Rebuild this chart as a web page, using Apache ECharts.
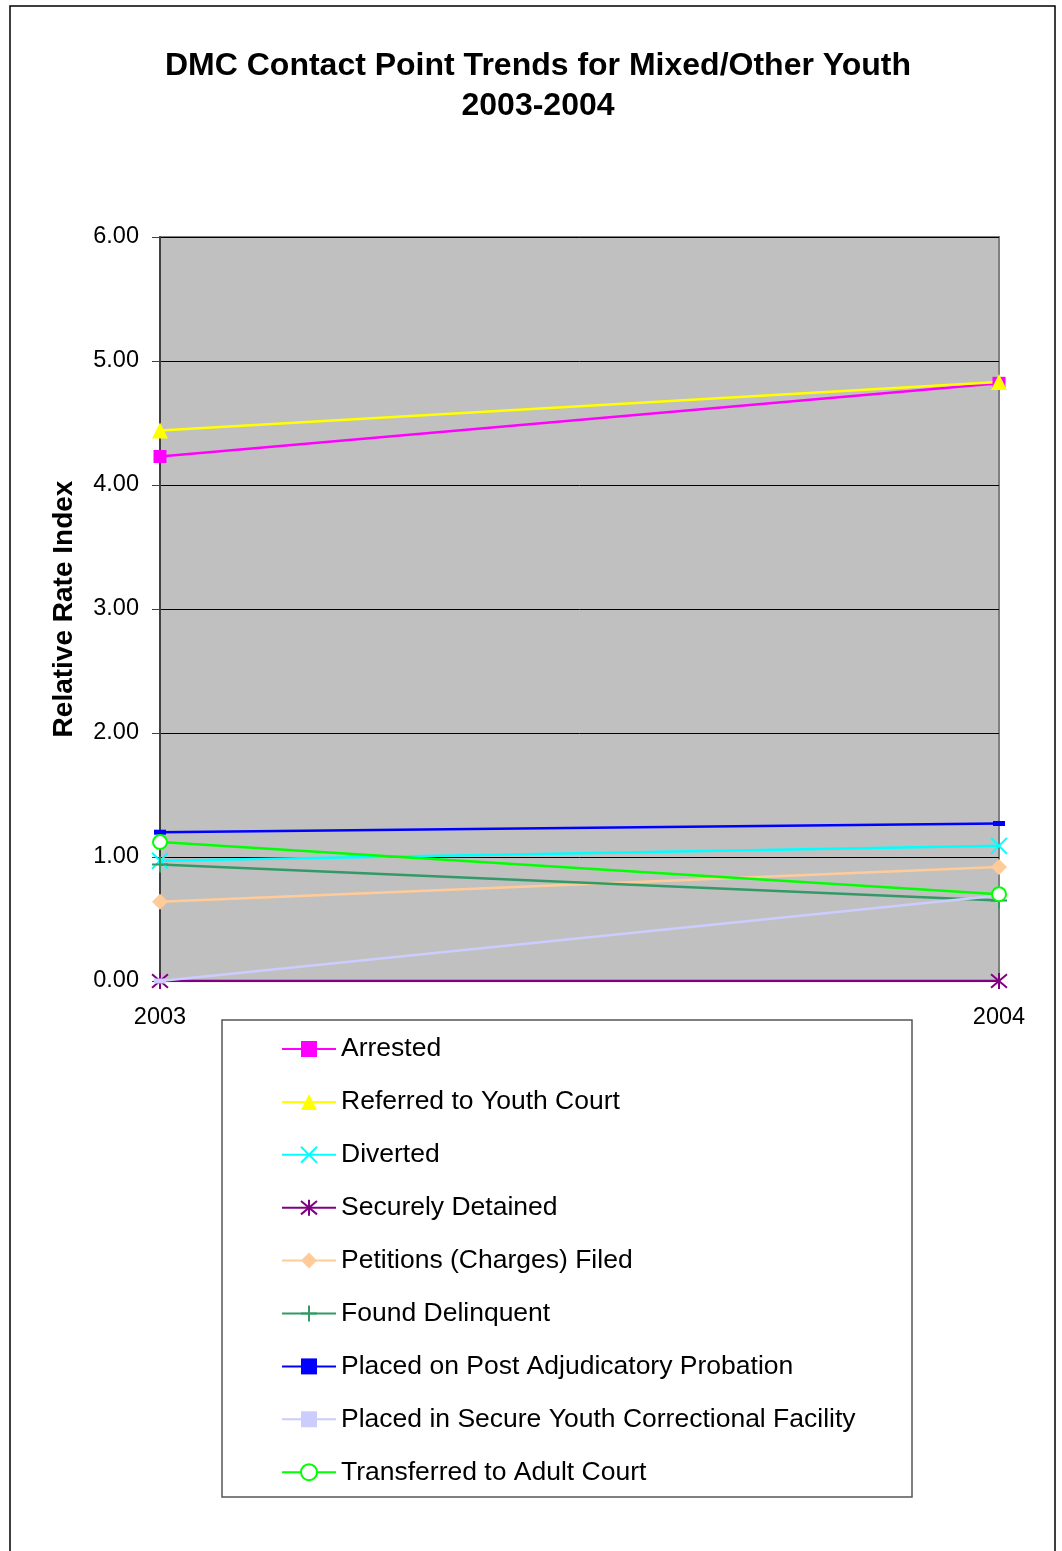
<!DOCTYPE html>
<html><head><meta charset="utf-8">
<script src="https://cdn.jsdelivr.net/npm/echarts@6/dist/echarts.min.js"></script>
<style>html,body{margin:0;padding:0;background:#fff}#c{width:1062px;height:1551px}</style>
</head><body><div id="c"></div>
<script>
const years = ['2003', '2004'];
const yTicks = [0, 1, 2, 3, 4, 5, 6];
const arrested = [4.23, 4.82];
const referred = [4.44, 4.83];
const diverted = [0.97, 1.09];
const securelyDetained = [0.00, 0.00];
const petitions = [0.64, 0.92];
const foundDelinquent = [0.94, 0.65];
const probation = [1.20, 1.27];
const secureFacility = [0.00, 0.69];
const transferred = [1.12, 0.70];

const F = 'Liberation Sans, Arial, sans-serif';
const X_PATH = 'path://M0,0L10,10M10,0L0,10';
const STAR_PATH = 'path://M0,0L10,10M10,0L0,10M5,-1L5,11';
const PLUS_PATH = 'path://M5,0L5,10M0,5L10,5';
const DASH_PATH = 'path://M0,0L12,0L12,5L0,5Z';

function mk(name, data, color, symbol, size, extra) {
  const s = {
    name, type: 'line', data, symbol, symbolSize: size,
    lineStyle: { color, width: 2.5 },
    itemStyle: { color },
    emphasis: { disabled: true },
    animation: false
  };
  return Object.assign(s, extra || {});
}
const strokeSym = (color) => ({ itemStyle: { color: 'none', borderColor: color, borderWidth: 2 } });

const series = [
  mk('Arrested', arrested, '#FF00FF', 'rect', 13),
  mk('Referred to Youth Court', referred, '#FFFF00', 'triangle', 16),
  mk('Diverted', diverted, '#00FFFF', X_PATH, 16, strokeSym('#00FFFF')),
  mk('Securely Detained', securelyDetained, '#800080', STAR_PATH, 16, strokeSym('#800080')),
  mk('Petitions (Charges) Filed', petitions, '#FFCC99', 'diamond', 16),
  mk('Found Delinquent', foundDelinquent, '#339966', PLUS_PATH, 16, strokeSym('#339966')),
  mk('Placed on Post Adjudicatory Probation', probation, '#0000FF', DASH_PATH, 12, { symbolKeepAspect: true }),
  mk('Placed in Secure Youth Correctional Facility', secureFacility, '#CCCCFF', DASH_PATH, 12, { symbolKeepAspect: true }),
  mk('Transferred to Adult Court', transferred, '#00FF00', 'emptyCircle', 14, { itemStyle: { color: '#00FF00', borderWidth: 2.5 } })
];

const chart = echarts.init(document.getElementById('c'), null, { renderer: 'canvas' });
chart.setOption({
  backgroundColor: '#fff',
  animation: false,
  title: {
    text: 'DMC Contact Point Trends for Mixed/Other Youth\n2003-2004',
    left: 533, top: 41, textAlign: 'center',
    textStyle: { fontFamily: F, fontWeight: 'bold', fontSize: 32, lineHeight: 40, color: '#000' }
  },
  graphic: [
    { type: 'rect', shape: { x: 10, y: 6, width: 1045, height: 1600 }, style: { fill: 'none', stroke: '#000', lineWidth: 1.5 }, z: 0, silent: true },
    { type: 'rect', shape: { x: 222, y: 1020, width: 690, height: 477 }, style: { fill: '#fff', stroke: '#555', lineWidth: 1.5 }, z: 5, silent: true }
  ],
  legend: {
    orient: 'vertical', left: 281, top: 1034, z: 10, padding: 0,
    itemWidth: 54, itemHeight: 20, itemGap: 22.9,
    selectedMode: false,
    textStyle: { fontFamily: F, fontSize: 26.5, color: '#000', lineHeight: 30 },
    data: series.map(s => s.name)
  },
  grid: {
    left: 160, top: 237, width: 839, height: 744,
    show: true, backgroundColor: '#C0C0C0', borderColor: '#808080', borderWidth: 2
  },
  xAxis: {
    type: 'category', data: years, boundaryGap: false,
    name: 'Year', nameLocation: 'middle', nameGap: 40,
    nameTextStyle: { fontFamily: F, fontWeight: 'bold', fontSize: 28, color: '#000' },
    axisLine: { lineStyle: { color: '#808080', width: 2 } },
    axisTick: { show: false },
    axisLabel: { fontFamily: F, fontSize: 23.5, color: '#000', margin: 25 },
    splitLine: { show: false }
  },
  yAxis: {
    type: 'value', min: 0, max: 6, interval: 1,
    name: 'Relative Rate Index', nameLocation: 'middle', nameGap: 82,
    nameTextStyle: { fontFamily: F, fontWeight: 'bold', fontSize: 28, color: '#000' },
    axisLine: { show: true, lineStyle: { color: '#404040', width: 2 } },
    axisTick: { show: true, length: 8, lineStyle: { color: '#404040' } },
    axisLabel: { fontFamily: F, fontSize: 23.5, color: '#000', margin: 21, formatter: v => v.toFixed(2) },
    splitLine: { show: true, lineStyle: { color: '#000', width: 1 } }
  },
  series
});
</script></body></html>
